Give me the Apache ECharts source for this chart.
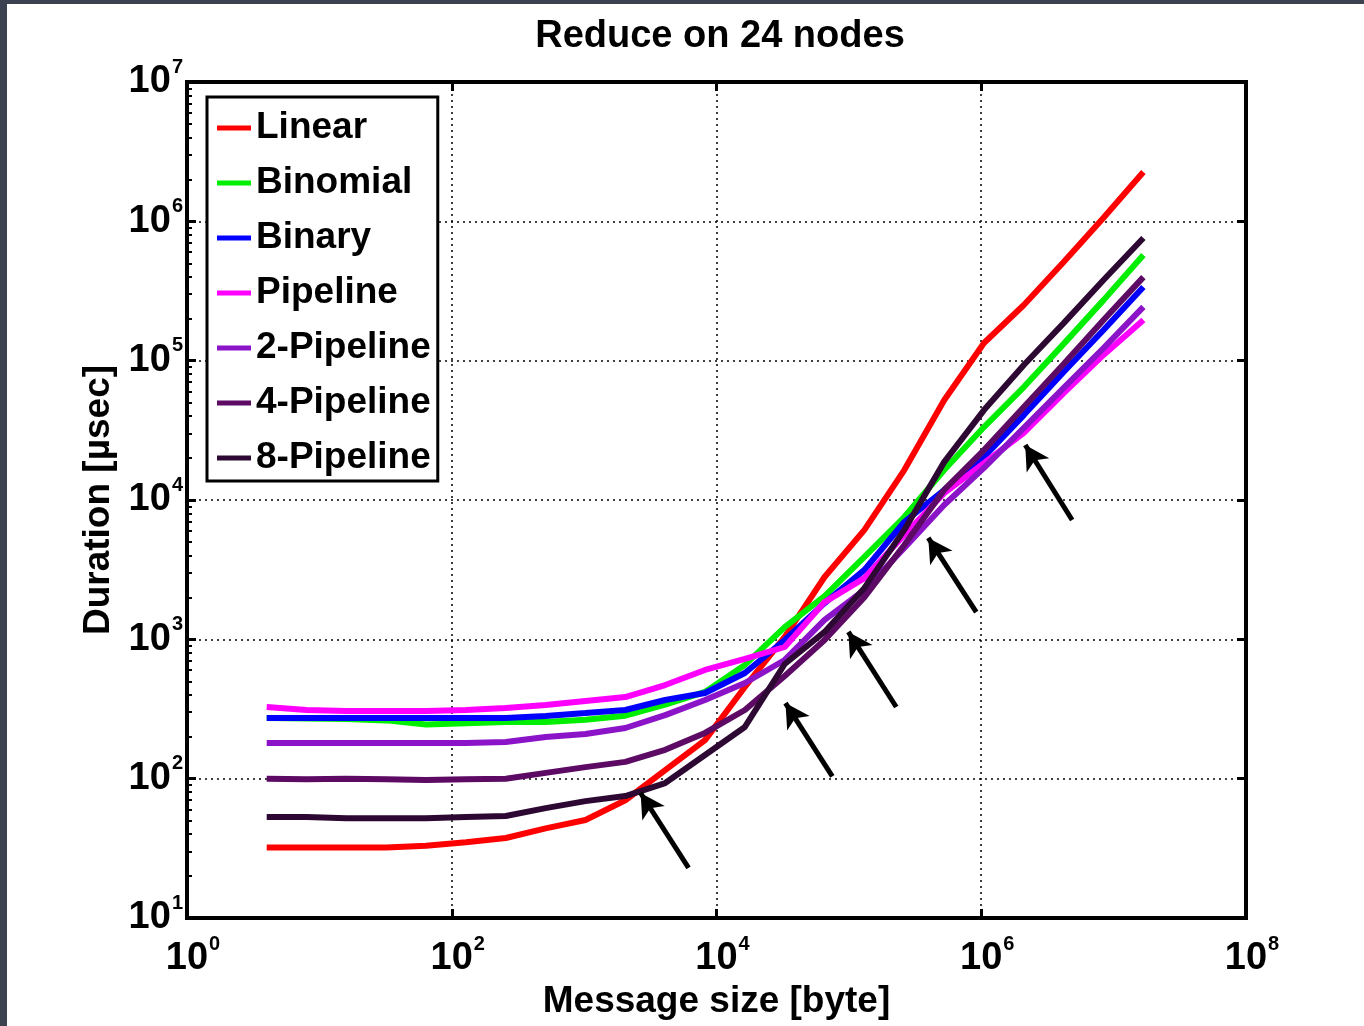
<!DOCTYPE html>
<html><head><meta charset="utf-8">
<script src="https://cdn.jsdelivr.net/npm/echarts@6/dist/echarts.min.js"></script>
<style>
html,body{margin:0;padding:0;background:#fff;}
#chart{position:absolute;left:0;top:0;width:1364px;height:1026px;}
#frameL{position:absolute;left:0;top:0;width:7px;height:1026px;background:#3c4250;}
#frameT{position:absolute;left:0;top:0;width:1364px;height:4px;background:#3c4250;}
</style></head><body>
<div id="chart"></div><div id="frameL"></div><div id="frameT"></div>
<script>
// Message sizes in bytes (2^2 .. 2^24)
const sizes = [4, 8, 16, 32, 64, 128, 256, 512, 1024, 2048, 4096, 8192, 16384, 32768, 65536,
  131072, 262144, 524288, 1048576, 2097152, 4194304, 8388608, 16777216];

// Durations in microseconds
const linear    = [32, 32, 32, 32, 33, 35, 37.5, 44, 50.5, 70, 115, 189, 455, 1040, 2800, 6100, 16400, 52000, 134000, 251000, 511000, 1060000, 2260000];
const binomial  = [272, 270, 268, 262, 245, 250, 255, 255, 265, 283, 340, 419, 655, 1225, 2040, 3900, 7550, 16400, 33400, 64700, 132000, 272000, 573000];
const binary    = [272, 272, 272, 272, 272, 272, 272, 282, 296, 311, 367, 412, 573, 989, 1820, 3150, 6950, 11800, 20400, 40700, 83000, 166000, 338000];
const pipeline  = [327, 311, 306, 306, 306, 311, 321, 338, 361, 385, 470, 603, 723, 881, 1850, 2750, 5610, 11200, 18400, 30300, 58600, 110000, 196000];
const pipeline2 = [180, 180, 180, 180, 180, 180, 183, 199, 209, 231, 286, 367, 486, 711, 1380, 2260, 4520, 9200, 17000, 32900, 63700, 123000, 243000];
const pipeline4 = [100, 99, 100, 99, 98, 99, 100, 110, 121, 132, 161, 213, 311, 546, 989, 2010, 4750, 11800, 22800, 46500, 94600, 196000, 398000];
const pipeline8 = [53, 53, 52, 52, 52, 53, 54, 61.5, 69, 75, 93, 148, 235, 665, 1130, 2340, 6100, 18700, 44200, 93000, 186000, 379000, 759000];

const seriesNames = ['Linear', 'Binomial', 'Binary', 'Pipeline', '2-Pipeline', '4-Pipeline', '8-Pipeline'];
const seriesValues = [linear, binomial, binary, pipeline, pipeline2, pipeline4, pipeline8];
const seriesColors = ['#ff0000', '#00ee00', '#0000ff', '#ff00ff', '#8c14c8', '#5c0a64', '#2d0832'];

// Annotation arrows: [tailSize, tailDuration, headSize, headDuration]
const arrows = [
  [6150, 22.9, 2670, 78.9],
  [75000, 104, 33200, 349],
  [228000, 327, 99100, 1130],
  [917000, 1570, 398000, 5340],
  [4860000, 7180, 2150000, 24800]
];

const FONT = 'Liberation Sans, Arial, sans-serif';
const expLabel = v => '{b|10}{e|' + Math.round(Math.log10(v)) + '}';

const series = seriesNames.map((name, i) => ({
  name: name,
  type: 'line',
  data: sizes.map((s, j) => [s, seriesValues[i][j]]),
  showSymbol: false,
  symbol: 'none',
  color: seriesColors[i],
  lineStyle: { width: 6, color: seriesColors[i] },
  animation: false,
  z: 3
}));

series.push({
  name: 'arrows',
  type: 'line',
  data: [],
  silent: true,
  animation: false,
  z: 5,
  markLine: {
    silent: true,
    animation: false,
    symbol: ['none', 'arrow'],
    symbolSize: [20, 24],
    lineStyle: { color: '#000', width: 5, type: 'solid' },
    label: { show: false },
    emphasis: { disabled: true },
    data: arrows.map(a => [{ coord: [a[0], a[1]] }, { coord: [a[2], a[3]] }])
  }
});

const tickStyle = { show: true, inside: true, length: 9, lineStyle: { color: '#000', width: 3 } };

const option = {
  backgroundColor: '#fff',
  animation: false,
  title: {
    text: 'Reduce on 24 nodes',
    left: 715, top: 13, textAlign: 'center',
    textStyle: { fontFamily: FONT, fontSize: 38, fontWeight: 'bold', color: '#000' }
  },
  grid: {
    left: 187, right: 118, top: 82, bottom: 108,
    show: true, borderColor: '#000', borderWidth: 4, backgroundColor: '#fff'
  },
  legend: {
    data: seriesNames,
    orient: 'vertical',
    left: 207, top: 97,
    padding: [11, 7, 3, 10],
    itemGap: 15,
    itemWidth: 34, itemHeight: 5,
    icon: 'rect',
    borderColor: '#000', borderWidth: 3,
    backgroundColor: '#fff',
    selectedMode: false,
    textStyle: { fontFamily: FONT, fontSize: 37, fontWeight: 'bold', color: '#000', lineHeight: 40 },
    z: 10
  },
  xAxis: [{
    type: 'log', logBase: 10, min: 1, max: 1e8, interval: 2,
    axisLine: { show: false },
    axisTick: tickStyle,
    axisLabel: {
      formatter: expLabel, margin: 16,
      rich: {
        b: { fontFamily: FONT, fontSize: 38, fontWeight: 'bold', color: '#000', padding: [0, 0, 0, 12] },
        e: { fontFamily: FONT, fontSize: 20, fontWeight: 'bold', color: '#000', padding: [0, 0, 30, 1] }
      }
    },
    splitLine: { show: true, lineStyle: { color: '#000', type: [2, 4], width: 1.5 } },
    name: 'Message size [byte]', nameLocation: 'middle', nameGap: 62,
    nameTextStyle: { fontFamily: FONT, fontSize: 37, fontWeight: 'bold', color: '#000' }
  }, {
    type: 'log', logBase: 10, min: 1, max: 1e8, interval: 2, position: 'top',
    axisLine: { show: false }, axisTick: tickStyle, axisLabel: { show: false }, splitLine: { show: false }
  }],
  yAxis: [{
    type: 'log', logBase: 10, min: 10, max: 1e7, interval: 1,
    axisLine: { show: false },
    axisTick: tickStyle,
    minorTick: { show: true, splitNumber: 9, length: 5, lineStyle: { color: '#000', width: 2 } },
    axisLabel: {
      formatter: expLabel, margin: 4, align: 'right',
      rich: {
        b: { fontFamily: FONT, fontSize: 38, fontWeight: 'bold', color: '#000' },
        e: { fontFamily: FONT, fontSize: 20, fontWeight: 'bold', color: '#000', padding: [0, 0, 30, 1] }
      }
    },
    splitLine: { show: true, lineStyle: { color: '#000', type: [2, 4], width: 1.5 } },
    name: 'Duration [\u00b5sec]', nameLocation: 'middle', nameGap: 66, nameRotate: 90,
    nameTextStyle: { fontFamily: FONT, fontSize: 37, fontWeight: 'bold', color: '#000' }
  }, {
    type: 'log', logBase: 10, min: 10, max: 1e7, interval: 1, position: 'right',
    axisLine: { show: false }, axisTick: tickStyle, axisLabel: { show: false }, splitLine: { show: false }
  }],
  series: series
};

const chart = echarts.init(document.getElementById('chart'), null, { renderer: 'canvas' });
chart.setOption(option);
</script>
</body></html>
